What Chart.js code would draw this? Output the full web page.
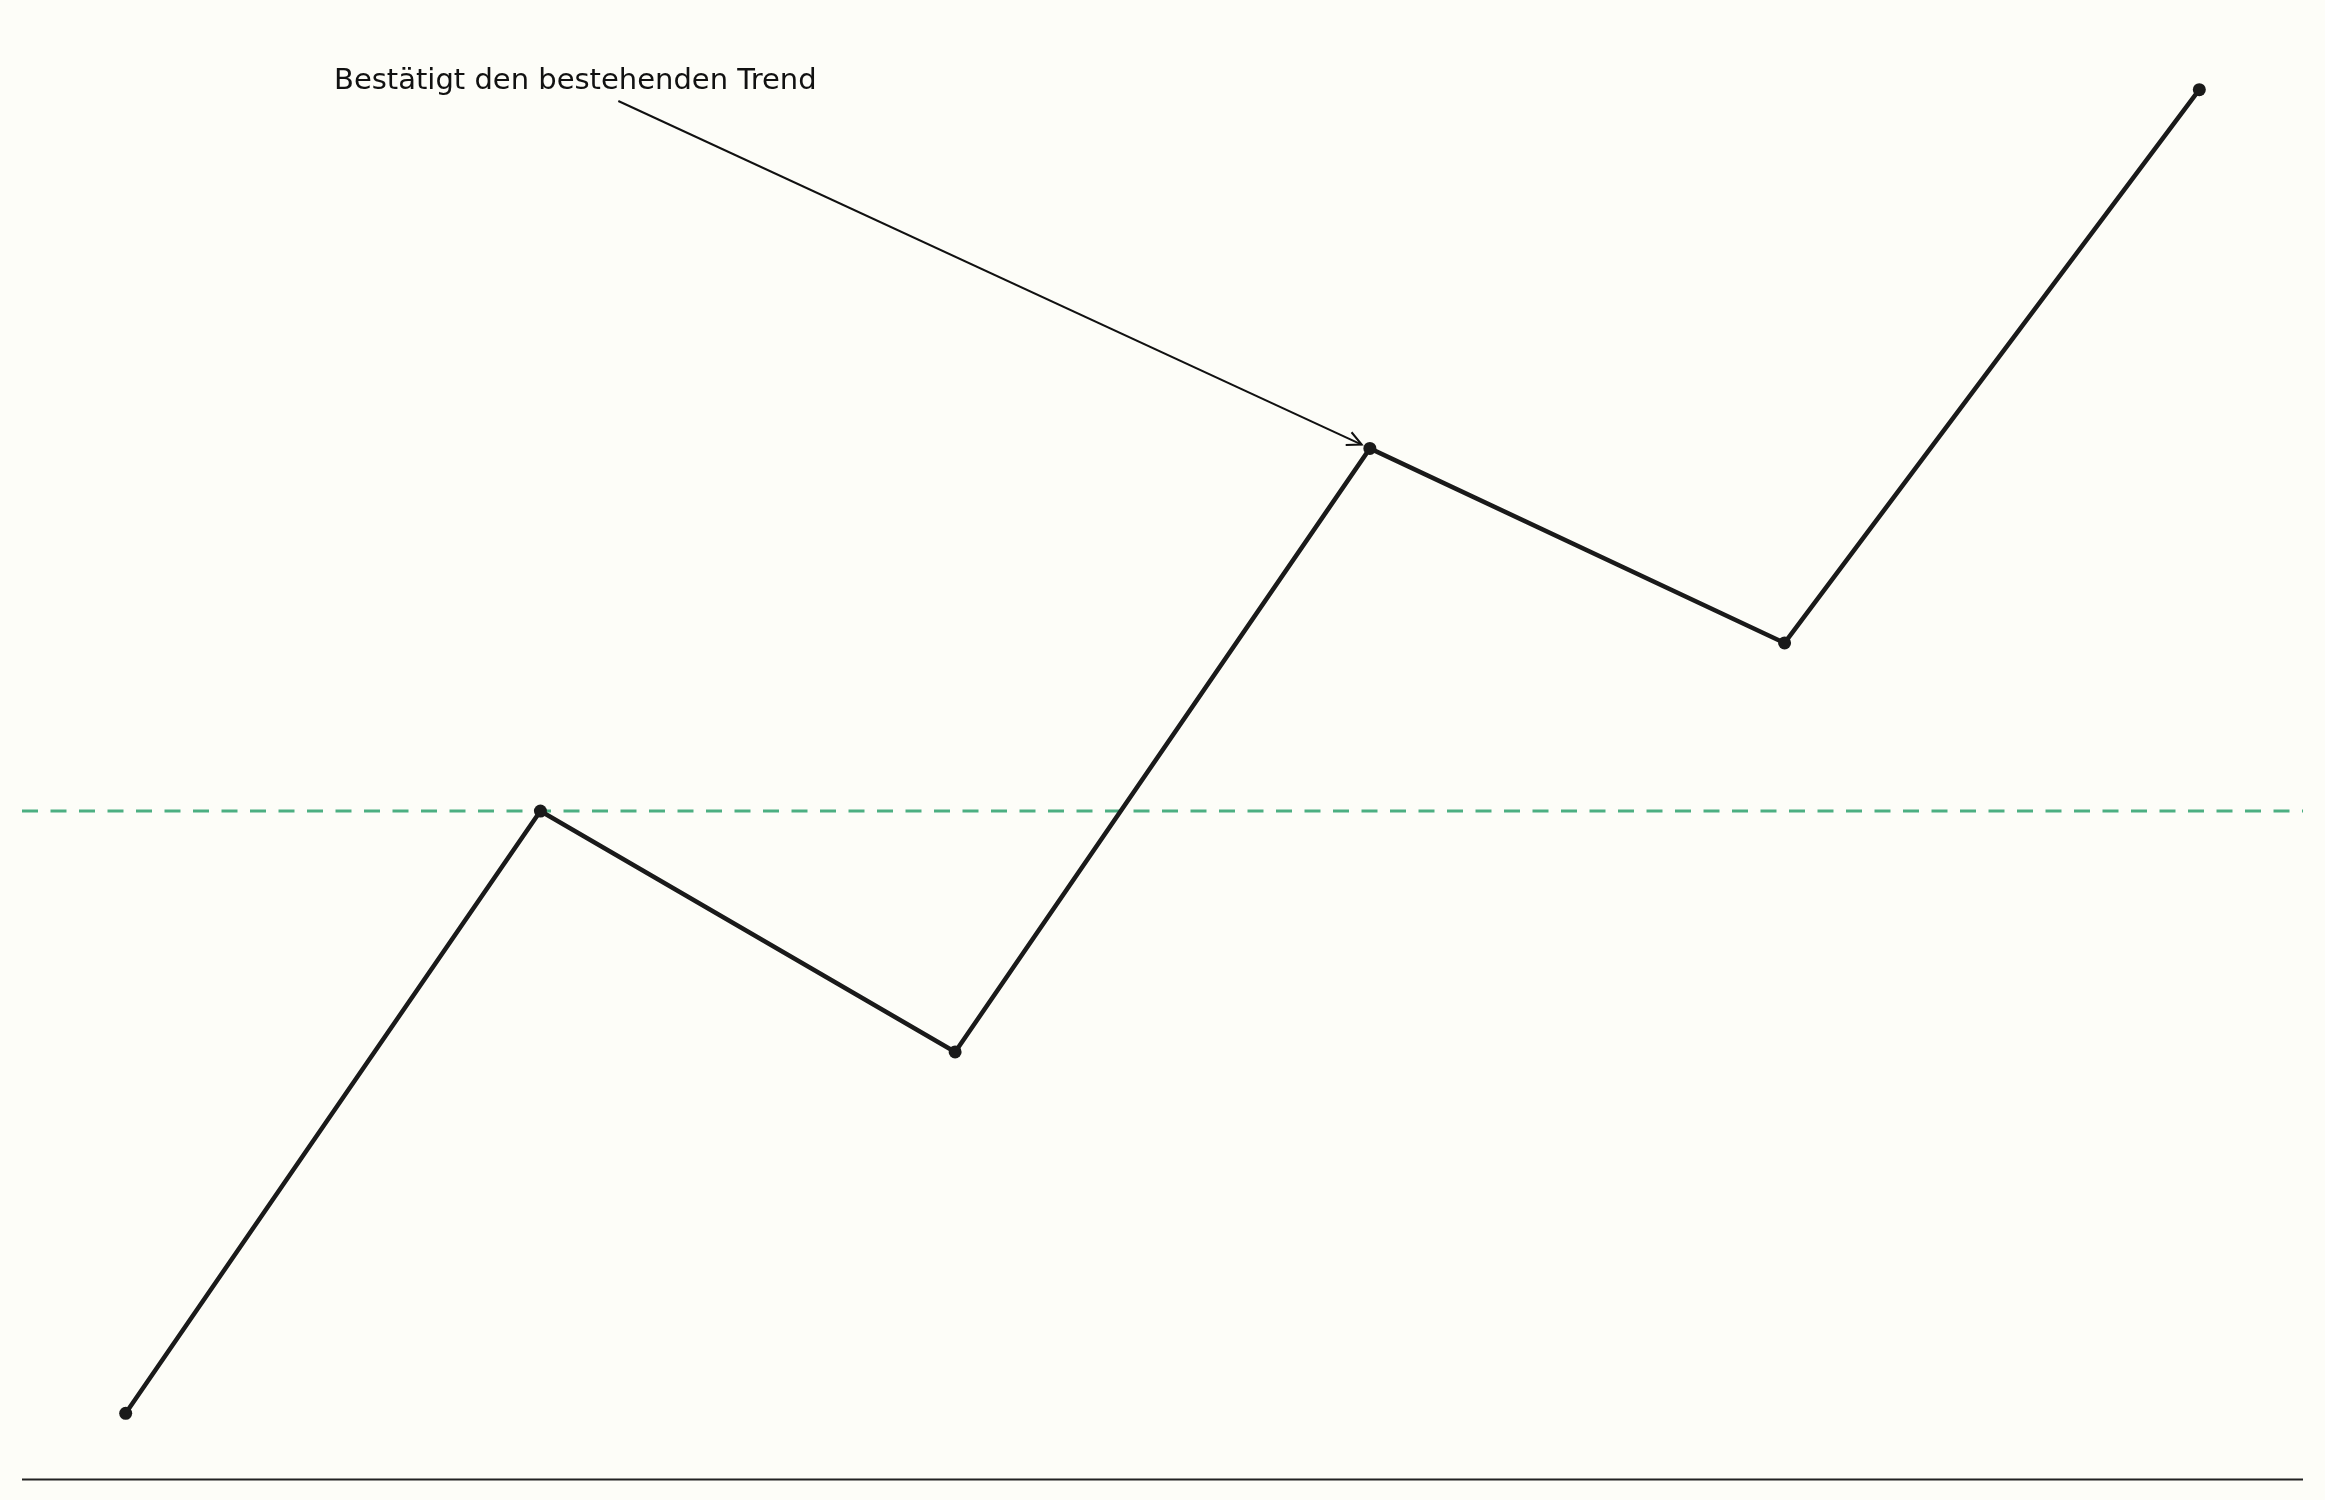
<!DOCTYPE html>
<html>
<head>
<meta charset="utf-8">
<script src="https://cdn.jsdelivr.net/npm/chart.js@4.4.0/dist/chart.umd.min.js"></script>
<style>
  html, body { margin: 0; padding: 0; background: #fdfdf8; overflow: hidden; }
  #wrap { width: 2325px; height: 1500px; position: relative; }
</style>
</head>
<body>
<div id="wrap"><canvas id="trendChart" width="2325" height="1500"></canvas></div>
<script>
// Werte
var steps = [0, 1, 2, 3, 4, 5];
var prices = [100, 145.5, 127.3, 172.9, 158.2, 200];
var resistance = 145.5;
var noteText = 'Bestätigt den bestehenden Trend';
var noteIndex = 3;

var xMin = -0.25, xMax = 5.25;
var yMin = 95, yMax = 205;

// Hintergrund, Grundlinie und Annotation
var extras = {
    id: 'extras',
    beforeDraw: function(chart) {
        var c = chart.ctx;
        c.save();
        c.fillStyle = '#fdfdf8';
        c.fillRect(0, 0, chart.width, chart.height);
        c.restore();
    },
    afterDatasetsDraw: function(chart) {
        var c = chart.ctx;
        var area = chart.chartArea;
        var xs = chart.scales.x, ys = chart.scales.y;

        // Grundlinie
        c.save();
        c.strokeStyle = '#222222';
        c.lineWidth = 2;
        c.beginPath();
        c.moveTo(area.left, area.bottom);
        c.lineTo(area.right, area.bottom);
        c.stroke();

        // Text
        c.font = '29px "DejaVu Sans"';
        c.fillStyle = '#111111';
        c.textBaseline = 'alphabetic';
        var tx = 334, ty = 89;
        c.fillText(noteText, tx, ty);
        var tw = c.measureText(noteText).width;

        // Pfeil zum Punkt
        var px = xs.getPixelForValue(steps[noteIndex]);
        var py = ys.getPixelForValue(prices[noteIndex]);
        var sx = tx + tw / 2 + 43, sy = 101;
        var dx = px - sx, dy = py - sy;
        var len = Math.sqrt(dx * dx + dy * dy);
        var ex = px - dx / len * 9, ey = py - dy / len * 9;
        c.strokeStyle = '#111111';
        c.lineWidth = 2;
        c.beginPath();
        c.moveTo(sx, sy);
        c.lineTo(ex, ey);
        c.stroke();
        var ang = Math.atan2(dy, dx);
        var hl = 16, ha = 0.45;
        c.beginPath();
        c.moveTo(ex - hl * Math.cos(ang - ha), ey - hl * Math.sin(ang - ha));
        c.lineTo(ex, ey);
        c.lineTo(ex - hl * Math.cos(ang + ha), ey - hl * Math.sin(ang + ha));
        c.stroke();
        c.restore();
    }
};

var ctx = document.getElementById('trendChart').getContext('2d');

var trendChart = new Chart(ctx, {
    type: 'line',
    data: {
        datasets: [{
            label: 'Kurs',
            data: steps.map(function(s, i) { return { x: s, y: prices[i] }; }),
            borderColor: '#1a1a1a',
            backgroundColor: '#1a1a1a',
            borderWidth: 4.5,
            pointRadius: 6.5,
            pointBorderWidth: 0,
            pointHoverRadius: 6.5,
            tension: 0,
            order: 0
        }, {
            label: 'Widerstand',
            data: [{ x: xMin, y: resistance }, { x: xMax, y: resistance }],
            borderColor: '#4caf82',
            borderWidth: 3,
            borderDash: [16, 12.5],
            pointRadius: 0,
            order: 1
        }]
    },
    options: {
        responsive: false,
        animation: false,
        devicePixelRatio: 1,
        layout: { padding: { left: 22, right: 22, top: 23.5, bottom: 20.5 } },
        scales: {
            x: { type: 'linear', min: xMin, max: xMax, display: false },
            y: { min: yMin, max: yMax, display: false }
        },
        plugins: {
            legend: { display: false },
            tooltip: { enabled: false },
            title: { display: false }
        }
    },
    plugins: [extras]
});
</script>
</body>
</html>
